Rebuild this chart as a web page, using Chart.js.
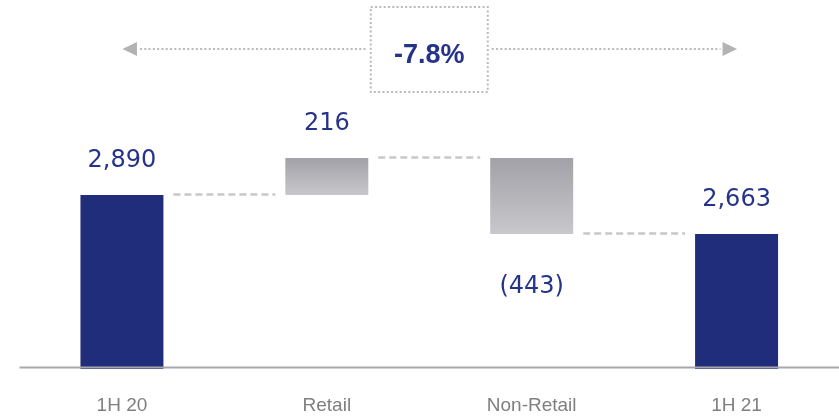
<!DOCTYPE html>
<html>
<head>
<meta charset="utf-8">
<script src="https://cdn.jsdelivr.net/npm/chart.js@4"></script>
<style>
  html, body { margin: 0; padding: 0; background: #fff; }
  #contenedor { width: 839px; height: 416px; }
</style>
</head>
<body>
<div id="contenedor"><canvas id="cascada"></canvas></div>
<script>
// datos de la cascada
const categorias = ['1H 20', 'Retail', 'Non-Retail', '1H 21'];
const valores = [2890, 216, -443, 2663];
const esTotal = [true, false, false, true];
const variacion = '-7.8%';

// rango visible del eje y (no arranca en cero)
const ejeMin = 1878;
const ejeMax = 4025;

const azul = '#1f2d7b';
const azulTexto = '#26338a';

// barras flotantes a partir del acumulado
let acumulado = 0;
const niveles = [];
const rangos = valores.map((v, i) => {
  if (esTotal[i]) {
    acumulado = v;
    niveles.push(acumulado);
    return [ejeMin, v];
  }
  const inicio = acumulado;
  acumulado += v;
  niveles.push(acumulado);
  return [Math.min(inicio, acumulado), Math.max(inicio, acumulado)];
});

const formatear = v => {
  const txt = Math.abs(v).toLocaleString('en-US');
  return v < 0 ? `(${txt})` : txt;
};

const colorBarra = ctx => {
  const i = ctx.dataIndex;
  if (esTotal[i]) return azul;
  const chart = ctx.chart;
  if (!chart.chartArea || !chart.scales.y) return '#b4b4b8';
  const y = chart.scales.y;
  const [a, b] = rangos[i];
  const g = chart.ctx.createLinearGradient(0, y.getPixelForValue(b), 0, y.getPixelForValue(a));
  g.addColorStop(0, '#a1a1a7');
  g.addColorStop(1, '#c8c8cc');
  return g;
};

const linea = (ctx, x1, y1, x2, y2) => {
  ctx.beginPath();
  ctx.moveTo(x1, y1);
  ctx.lineTo(x2, y2);
  ctx.stroke();
};

const extras = {
  id: 'extras',
  afterDatasetsDraw(chart) {
    const {ctx, chartArea} = chart;
    const meta = chart.getDatasetMeta(0);
    const y = chart.scales.y;

    ctx.save();

    // linea base
    ctx.strokeStyle = '#a8a8ac';
    ctx.lineWidth = 2;
    linea(ctx, chartArea.left, chartArea.bottom - 1.5, chartArea.right, chartArea.bottom - 1.5);

    // conectores entre barras
    ctx.strokeStyle = '#c8c8c8';
    ctx.lineWidth = 2.5;
    ctx.setLineDash([7, 4]);
    for (let i = 0; i < meta.data.length - 1; i++) {
      const a = meta.data[i];
      const b = meta.data[i + 1];
      const yy = Math.round(y.getPixelForValue(niveles[i])) - 0.5;
      linea(ctx, a.x + a.width / 2 + 10, yy, b.x - b.width / 2 - 10, yy);
    }
    ctx.setLineDash([]);

    // etiquetas de valor
    ctx.font = '24px "DejaVu Sans"';
    ctx.fillStyle = azulTexto;
    ctx.textAlign = 'center';
    ctx.textBaseline = 'middle';
    meta.data.forEach((barra, i) => {
      const v = valores[i];
      const [a, b] = rangos[i];
      const py = v < 0 ? y.getPixelForValue(a) + 53 : y.getPixelForValue(b) - 34;
      ctx.fillText(formatear(v), barra.x, py);
    });

    // flecha de variacion entre el primer y el ultimo total
    const x1 = meta.data[0].x;
    const x2 = meta.data[meta.data.length - 1].x;
    const yf = 49;
    const medio = (x1 + x2) / 2;
    const cajaAncho = 117;
    const cajaTop = 7;
    const cajaAlto = 85;

    ctx.fillStyle = '#b3b3b3';
    ctx.beginPath();
    ctx.moveTo(x1 + 0.5, yf);
    ctx.lineTo(x1 + 15, yf - 7);
    ctx.lineTo(x1 + 15, yf + 7);
    ctx.closePath();
    ctx.fill();
    ctx.beginPath();
    ctx.moveTo(x2 + 0.5, yf);
    ctx.lineTo(x2 - 14, yf - 7);
    ctx.lineTo(x2 - 14, yf + 7);
    ctx.closePath();
    ctx.fill();

    ctx.strokeStyle = '#bababa';
    ctx.lineWidth = 2;
    ctx.setLineDash([2, 2.3]);
    linea(ctx, x1 + 18, yf, medio - cajaAncho / 2 - 4, yf);
    linea(ctx, medio + cajaAncho / 2 + 4, yf, x2 - 16, yf);
    ctx.strokeRect(medio - cajaAncho / 2, cajaTop, cajaAncho, cajaAlto);
    ctx.setLineDash([]);

    ctx.font = 'bold 27px "Liberation Sans"';
    ctx.fillStyle = azulTexto;
    ctx.fillText(variacion, medio, yf + 7);

    ctx.restore();
  }
};

new Chart(document.getElementById('cascada'), {
  type: 'bar',
  data: {
    labels: categorias,
    datasets: [{
      data: rangos,
      backgroundColor: colorBarra,
      borderWidth: 0,
      borderSkipped: false,
      barPercentage: 0.405,
      categoryPercentage: 1
    }]
  },
  options: {
    responsive: true,
    maintainAspectRatio: false,
    animation: false,
    layout: { padding: { left: 19.5, right: 0, top: 0, bottom: 0 } },
    plugins: {
      legend: { display: false },
      tooltip: { enabled: false }
    },
    scales: {
      x: {
        grid: { display: false },
        border: { display: false },
        ticks: {
          color: '#7f7f7f',
          padding: 17,
          font: { family: 'Liberation Sans', size: 19 }
        },
        afterFit: s => { s.height = 47; }
      },
      y: {
        display: false,
        min: ejeMin,
        max: ejeMax
      }
    }
  },
  plugins: [extras]
});
</script>
</body>
</html>
